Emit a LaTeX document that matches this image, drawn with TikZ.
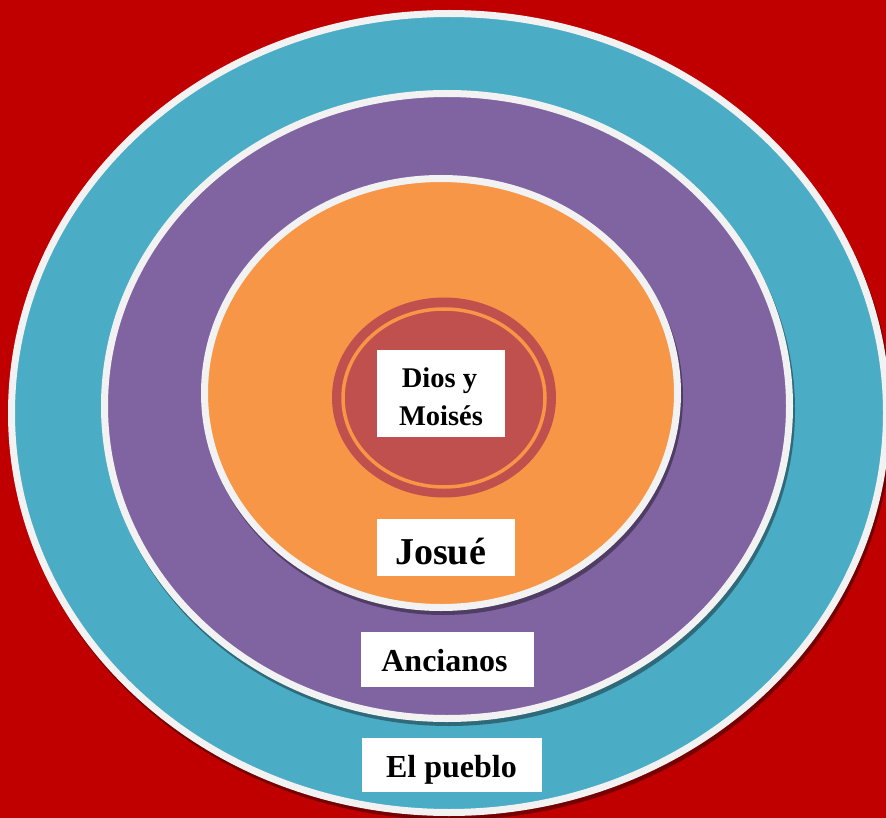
\documentclass[tikz,border=0pt]{standalone}
\usepackage{fontspec}
\setmainfont{Liberation Serif}
\definecolor{cBg}{HTML}{C00000}
\definecolor{cTeal}{HTML}{4BACC6}
\definecolor{cPurple}{HTML}{8064A2}
\definecolor{cOrange}{HTML}{F79646}
\definecolor{cCore}{HTML}{C0504D}
\definecolor{cRim}{HTML}{F2F2F2}
\begin{document}
\begin{tikzpicture}[x=1pt,y=-1pt,
  ring/.style={draw=cRim, line width=7pt},
  shade/.style={fill=black, fill opacity=0.38},
  whitebox/.style={fill=white, draw=none, inner sep=0pt},
  lbl/.style={inner sep=0pt, anchor=base, text=black}]
\useasboundingbox (0,0) rectangle (886,818);
\clip (0,0) rectangle (886,818);
\fill[cBg] (0,0) rectangle (886,818);
% outer ring (El pueblo)
\fill[shade] (451,417) ellipse [x radius=441pt, y radius=403pt];
\path[ring, fill=cTeal] (449,413) ellipse [x radius=437.5pt, y radius=399.5pt];
% purple ring (Ancianos)
\fill[shade] (449,410) ellipse [x radius=346pt, y radius=316pt];
\path[ring, fill=cPurple] (447,406) ellipse [x radius=342.5pt, y radius=312.5pt];
% orange ring (Josue)
\fill[shade] (443,397) ellipse [x radius=240pt, y radius=218pt];
\path[ring, fill=cOrange] (441,393) ellipse [x radius=236.5pt, y radius=214.5pt];
% core
\fill[cCore] (444,397.5) ellipse [x radius=112pt, y radius=100pt];
\draw[cOrange, line width=3.5pt] (444,398) ellipse [x radius=101pt, y radius=89pt];
% boxes
\node[whitebox, minimum width=128pt, minimum height=87pt] (diosBox) at (441,393.5) {};
\node[lbl, font=\bfseries\fontsize{28.5}{34}\selectfont] (dios) at (439.5,387) {Dios y};
\node[lbl, font=\bfseries\fontsize{28.5}{34}\selectfont] (moises) at (441,425) {Moisés};
\node[whitebox, minimum width=138pt, minimum height=57pt] (josueBox) at (446,547.5) {};
\node[lbl, font=\bfseries\fontsize{38}{44}\selectfont] (josue) at (440.5,564) {Josué};
\node[whitebox, minimum width=173pt, minimum height=55pt] (ancBox) at (447.5,659.5) {};
\node[lbl, font=\bfseries\fontsize{32}{38}\selectfont] (anc) at (444.5,671) {Ancianos};
\node[whitebox, minimum width=180pt, minimum height=54pt] (puebloBox) at (452,765) {};
\node[lbl, font=\bfseries\fontsize{32}{38}\selectfont] (pueblo) at (451.5,777) {El pueblo};
\end{tikzpicture}
\end{document}
